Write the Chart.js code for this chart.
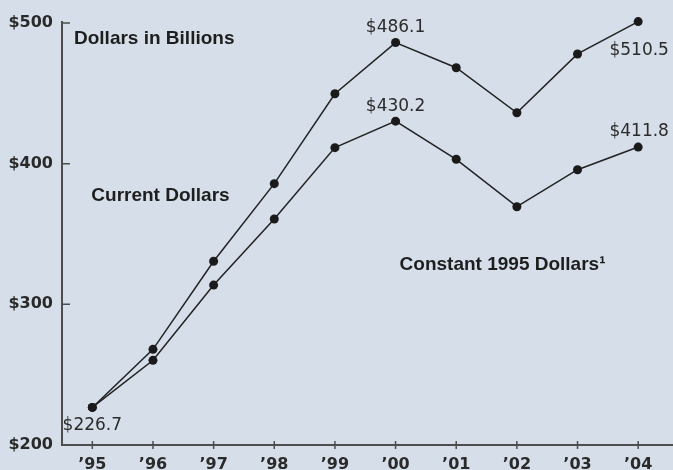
<!DOCTYPE html>
<html>
<head>
<meta charset="utf-8">
<script src="https://cdn.jsdelivr.net/npm/chart.js@4"></script>
<style>
  html, body { margin: 0; padding: 0; background: #d6dee9; }
</style>
</head>
<body>
<canvas id="chart" width="673" height="470"></canvas>
<script>
// data
const years = ['\u201995', '\u201996', '\u201997', '\u201998', '\u201999', '\u201900', '\u201901', '\u201902', '\u201903', '\u201904'];
const currentDollars = [226.7, 268.0, 330.6, 385.8, 449.7, 486.1, 468.2, 436.2, 478.0, 501.0];
const constantDollars = [226.7, 260.2, 313.7, 360.7, 411.4, 430.2, 403.1, 369.4, 395.7, 411.8];
const yTickValues = [200, 300, 400, 500];
const yTickLabels = ['$200', '$300', '$400', '$500'];
// value callouts: [series, index, text]
const callouts = [
    ['current', 5, '$486.1'],
    ['current', 9, '$510.5'],
    ['constant', 5, '$430.2'],
    ['constant', 9, '$411.8'],
    ['constant', 0, '$226.7']
];

const BG = '#d6dee9';
const INK = '#1e1e1e';
const AXIS = '#4d4d4d';

const seriesByName = { current: currentDollars, constant: constantDollars };

const decor = {
    id: 'decor',
    beforeDraw(chart) {
        const ctx = chart.ctx;
        ctx.save();
        ctx.fillStyle = BG;
        ctx.fillRect(0, 0, chart.width, chart.height);
        ctx.restore();
    },
    afterDatasetsDraw(chart) {
        const ctx = chart.ctx;
        const xs = chart.scales.x;
        const ys = chart.scales.y;
        const a = chart.chartArea;
        ctx.save();

        // axes
        ctx.strokeStyle = AXIS;
        ctx.lineWidth = 2;
        ctx.beginPath();
        ctx.moveTo(a.left, a.top - 2);
        ctx.lineTo(a.left, a.bottom);
        ctx.lineTo(chart.width, a.bottom);
        ctx.stroke();

        ctx.lineWidth = 1.5;
        ctx.beginPath();
        yTickValues.forEach(v => {
            const py = ys.getPixelForValue(v);
            ctx.moveTo(a.left, py);
            ctx.lineTo(a.left + 8, py);
        });
        years.forEach((_, i) => {
            const px = xs.getPixelForValue(i);
            ctx.moveTo(px, a.bottom - 4);
            ctx.lineTo(px, a.bottom + 4);
        });
        ctx.stroke();

        // titles
        ctx.fillStyle = INK;
        ctx.textBaseline = 'middle';
        ctx.textAlign = 'left';
        ctx.font = 'bold 19px "Liberation Sans", Arial, sans-serif';
        ctx.fillText('Dollars in Billions', a.left + 12, ys.getPixelForValue(489));
        ctx.fillText('Current Dollars', xs.getPixelForValue(0) - 1, ys.getPixelForValue(377));
        ctx.fillText('Constant 1995 Dollars\u00b9', xs.getPixelForValue(5) + 4, ys.getPixelForValue(328));

        // value callouts
        ctx.font = '17px "DejaVu Sans", sans-serif';
        ctx.fillStyle = '#2b2b2b';
        ctx.textAlign = 'center';
        callouts.forEach(([name, i, text]) => {
            const px = xs.getPixelForValue(i);
            const py = ys.getPixelForValue(seriesByName[name][i]);
            let dy = -15;
            if (name === 'current' && i === 9) dy = 29;
            if (name === 'constant' && i === 0) dy = 18;
            ctx.fillText(text, px + (i === 9 ? 1 : 0), py + dy);
        });
        ctx.restore();
    }
};

const lineStyle = {
    borderColor: '#222',
    borderWidth: 1.5,
    pointRadius: 4.5,
    pointBackgroundColor: '#1a1a1a',
    pointBorderWidth: 0,
    tension: 0,
    clip: false
};

const tickFont = { family: '"DejaVu Sans", sans-serif', size: 16, weight: 'bold' };

new Chart(document.getElementById('chart'), {
    type: 'line',
    data: {
        labels: years,
        datasets: [
            { label: 'Current Dollars', data: currentDollars, ...lineStyle },
            { label: 'Constant 1995 Dollars', data: constantDollars, ...lineStyle }
        ]
    },
    options: {
        responsive: false,
        animation: false,
        layout: { padding: { top: 23, right: -2, left: 0, bottom: 0 } },
        plugins: {
            legend: { display: false },
            tooltip: { enabled: false }
        },
        scales: {
            x: {
                offset: true,
                grid: { display: false, drawTicks: false },
                border: { display: false },
                ticks: {
                    color: '#2a2a2a',
                    padding: 10,
                    font: tickFont
                },
                afterFit: s => {
                    s.height = 25;
                    s.paddingLeft = 0;
                    s.paddingRight = 0;
                }
            },
            y: {
                min: 200,
                max: 500,
                afterBuildTicks: s => { s.ticks = yTickValues.map(v => ({ value: v })); },
                grid: { display: false, drawTicks: false },
                border: { display: false },
                ticks: {
                    color: '#2a2a2a',
                    padding: 9,
                    font: tickFont,
                    callback: v => yTickLabels[yTickValues.indexOf(v)]
                },
                afterFit: s => { s.width = 62; }
            }
        }
    },
    plugins: [decor]
});
</script>
</body>
</html>
